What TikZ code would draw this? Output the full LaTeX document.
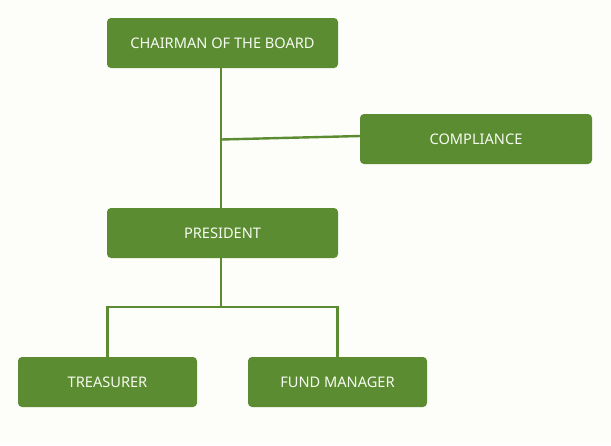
\documentclass[tikz,border=0pt]{standalone}
\usepackage{fontspec}
\setmainfont{Noto Sans}
\definecolor{boxgreen}{HTML}{5B8C32}
\definecolor{bg}{HTML}{FDFEF9}
\definecolor{txt}{HTML}{F6FBF0}
\begin{document}
\begin{tikzpicture}[x=1pt,y=-1pt,
  box/.style={fill=boxgreen, rounded corners=4pt, inner sep=0pt, text=txt,
    font=\fontsize{14.6}{17}\selectfont},
  link/.style={draw=boxgreen, line width=2.4pt}]
\fill[bg] (0,0) rectangle (611,445);
\useasboundingbox (0,0) rectangle (611,445);
\node[box, minimum width=231pt, minimum height=50pt] (chair) at (222.5,43) {CHAIRMAN OF THE BOARD};
\node[box, minimum width=232pt, minimum height=50pt] (comp) at (476,139) {COMPLIANCE};
\node[box, minimum width=231pt, minimum height=50pt] (pres) at (222.5,233) {PRESIDENT};
\node[box, minimum width=179pt, minimum height=50pt] (treas) at (107.5,382) {TREASURER};
\node[box, minimum width=179pt, minimum height=50pt] (fund) at (337.5,382) {FUND MANAGER};
\coordinate (j) at (221,139.5);
\coordinate (c) at (360.5,136);
\coordinate (split) at (221,307);
\draw[link] (chair.south -| j) -- (pres.north -| j);
\draw[link] (j) -- (c);
\draw[link] (pres.south -| split) -- (split);
\draw[link] (treas.north -| 107.5,0) |- (split) -| (fund.north);
\end{tikzpicture}
\end{document}
